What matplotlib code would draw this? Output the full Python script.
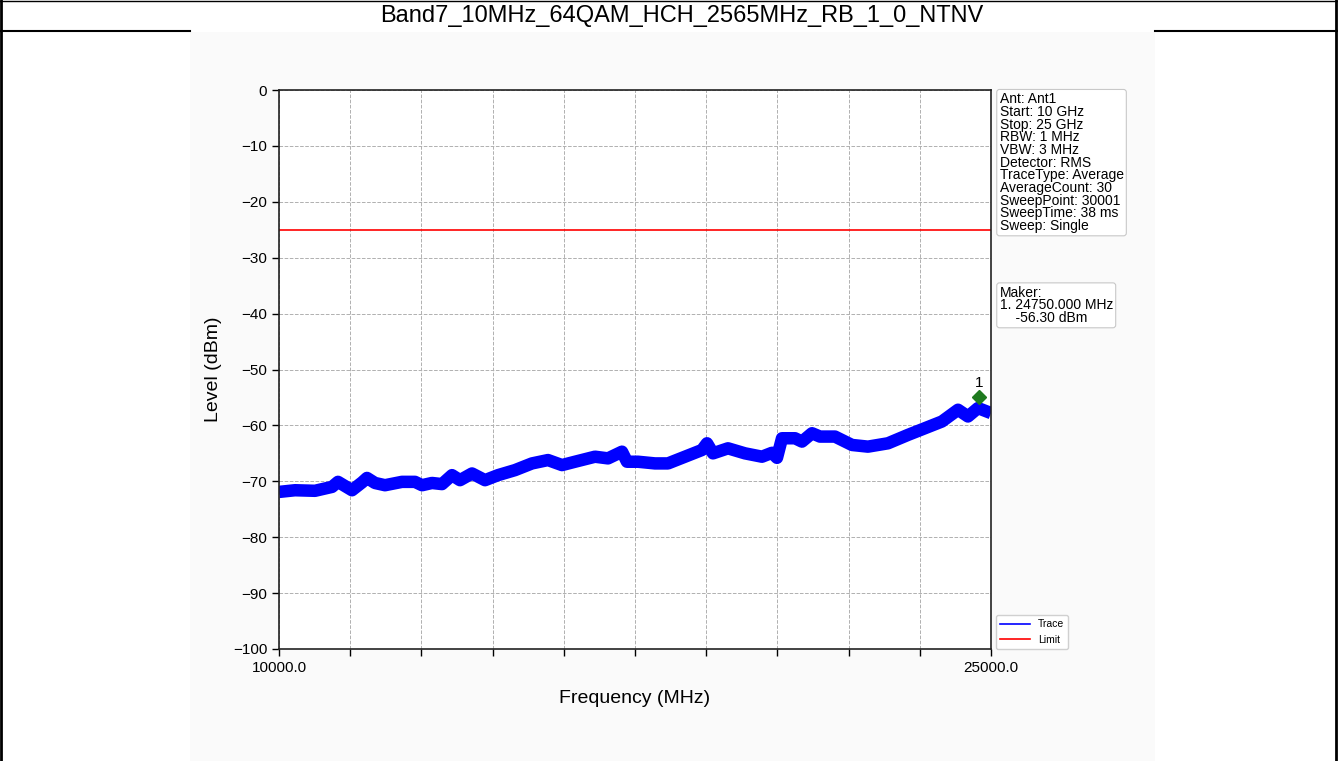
import matplotlib.pyplot as plt
import numpy as np
from matplotlib.patches import Rectangle
from matplotlib.lines import Line2D

plt.rcParams['font.family'] = ['Liberation Sans', 'DejaVu Sans']

title = 'Band7_10MHz_64QAM_HCH_2565MHz_RB_1_0_NTNV'

# trace (MHz, dBm)
freq = [10000, 10337, 10758, 11117, 11243, 11538, 11749, 11854, 12022, 12233,
        12591, 12865, 13013, 13223, 13434, 13645, 13813, 14066, 14340, 14614,
        14972, 15330, 15667, 15962, 16236, 16657, 16931, 17226, 17331, 17563,
        17921, 18195, 18553, 18911, 19017, 19143, 19459, 19817, 20175, 20386,
        20491, 20597, 20871, 21018, 21229, 21397, 21713, 22071, 22408, 22830,
        23251, 23609, 23967, 24305, 24515, 24726, 25000]
level = [-71.9, -71.6, -71.7, -71.0, -70.1, -71.6, -70.2, -69.4, -70.3, -70.7,
         -70.1, -70.1, -70.7, -70.3, -70.5, -68.9, -69.8, -68.6, -69.8, -68.9,
         -68.0, -66.8, -66.2, -67.1, -66.5, -65.6, -65.9, -64.7, -66.5, -66.5,
         -66.8, -66.8, -65.6, -64.4, -63.2, -65.0, -64.1, -65.0, -65.6, -64.9,
         -65.8, -62.3, -62.3, -62.9, -61.4, -62.0, -62.0, -63.5, -63.8, -63.2,
         -61.7, -60.5, -59.3, -57.2, -58.4, -56.9, -57.8]
limit_freq = [10000, 25000]
limit_level = [-25, -25]
marker_freq = 24750
marker_level = -54.9

info = ['Ant: Ant1', 'Start: 10 GHz', 'Stop: 25 GHz', 'RBW: 1 MHz', 'VBW: 3 MHz',
        'Detector: RMS', 'TraceType: Average', 'AverageCount: 30',
        'SweepPoint: 30001', 'SweepTime: 38 ms', 'Sweep: Single']
maker = ['Maker:', '1. 24750.000 MHz', '    -56.30 dBm']

W, H = 1338, 761
fig = plt.figure(figsize=(W/100, H/100), dpi=100)

# table frame + image background
fig.patches.append(Rectangle((190/W, 0), (1155-190)/W, 1-32/H, transform=fig.transFigure,
                             facecolor='#fafafa', edgecolor='none', zorder=-5))
for xs, ys, lw in [([1/W, 1/W], [0, 1], 2), ([1336/W, 1336/W], [0, 1], 2),
                   ([0, 1], [1-0.5/H, 1-0.5/H], 1),
                   ([0, 190/W], [1-31/H, 1-31/H], 1.5), ([1155/W, 1], [1-31/H, 1-31/H], 1.5)]:
    fig.add_artist(Line2D(xs, ys, color='black', lw=lw, transform=fig.transFigure))
fig.text(682/W, 1-16/H, title, ha='center', va='center', fontsize=17)

ax = fig.add_axes([279/W, 1-649/H, (991-279)/W, (649-90)/H])
ax.set_zorder(2)
ax.plot(freq, level, color='blue', lw=9, solid_joinstyle='round', solid_capstyle='butt')
ax.plot(limit_freq, limit_level, color='red', lw=1.2)
ax.plot(marker_freq, marker_level, marker='D', color='#1e7a1e', markersize=7, ls='none')
ax.text(marker_freq, marker_level + 1.3, '1', ha='center', va='bottom', fontsize=11)

ax.set_xlim(10000, 25000)
ax.set_ylim(-100, 0)
ax.set_yticks(np.arange(-100, 1, 10))
ax.set_xticks([10000, 25000])
ax.set_xticklabels(['10000.0', '25000.0'])
ax.set_xticks(np.arange(11500, 25000, 1500), minor=True)
ax.tick_params(axis='both', which='both', direction='out', labelsize=11, length=5, width=1)
ax.grid(True, which='both', ls='--', color='#b0b0b0', lw=0.7)
ax.grid(False, axis='y', which='minor')
for s in ax.spines.values():
    s.set_linewidth(1.2)
    s.set_color('#222222')
ax.set_xlabel('Frequency (MHz)', fontsize=14, labelpad=11)
ax.set_ylabel('Level (dBm)', fontsize=14, labelpad=8)

ax.text(1.012, 0.996, '\n'.join(info), transform=ax.transAxes, ha='left', va='top',
        fontsize=10, linespacing=0.88,
        bbox=dict(boxstyle='round,pad=0.2', fc='white', ec='#c8c8c8', lw=0.8))
ax.text(1.012, 0.65, '\n'.join(maker), transform=ax.transAxes, ha='left', va='top',
        fontsize=10, linespacing=0.88,
        bbox=dict(boxstyle='round,pad=0.2', fc='white', ec='#c8c8c8', lw=0.8))

handles = [Line2D([], [], color='blue', lw=1.2), Line2D([], [], color='red', lw=1.2)]
ax.legend(handles, ['Trace', 'Limit'], loc='lower left', bbox_to_anchor=(1.003, -0.005),
          fontsize=7.5, handlelength=2.8, framealpha=1, edgecolor='#d0d0d0', borderaxespad=0.3)

fig.savefig('out.png', dpi=100)
